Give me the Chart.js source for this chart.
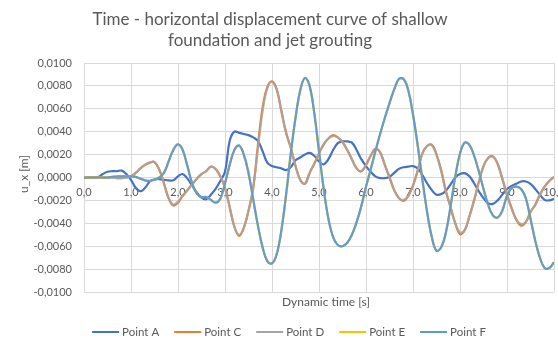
<!DOCTYPE html>
<html>
<head>
<meta charset="utf-8">
<script src="https://cdn.jsdelivr.net/npm/chart.js@4.4.1/dist/chart.umd.min.js"></script>
<style>
html,body{margin:0;padding:0;background:#ffffff;}
#wrap{width:558px;height:338px;position:relative;}
</style>
</head>
<body>
<div id="wrap"><canvas id="c" width="558" height="338"></canvas></div>
<script>
const titleLines = ['Time - horizontal displacement curve of shallow', 'foundation and jet grouting'];
const xTitle = 'Dynamic time [s]';
const yTitle = 'u_x [m]';
const seriesNames = ['Point A', 'Point C', 'Point D', 'Point E', 'Point F'];
const xTickLabels = ['0,0','1,0','2,0','3,0','4,0','5,0','6,0','7,0','8,0','9,0','10,0'];
const yTickLabels = ['-0,0100','-0,0080','-0,0060','-0,0040','-0,0020','0,0000','0,0020','0,0040','0,0060','0,0080','0,0100'];

const time = [0.0,0.1,0.2,0.3,0.4,0.5,0.6,0.7,0.8,0.9,
1.0,1.1,1.2,1.3,1.4,1.5,1.6,1.7,1.8,1.9,
2.0,2.1,2.2,2.3,2.4,2.5,2.6,2.7,2.8,2.9,
3.0,3.1,3.2,3.3,3.4,3.5,3.6,3.7,3.8,3.9,
4.0,4.1,4.2,4.3,4.4,4.5,4.6,4.7,4.8,4.9,
5.0,5.1,5.2,5.3,5.4,5.5,5.6,5.7,5.8,5.9,
6.0,6.1,6.2,6.3,6.4,6.5,6.6,6.7,6.8,6.9,
7.0,7.1,7.2,7.3,7.4,7.5,7.6,7.7,7.8,7.9,
8.0,8.1,8.2,8.3,8.4,8.5,8.6,8.7,8.8,8.9,
9.0,9.1,9.2,9.3,9.4,9.5,9.6,9.7,9.8,9.9,10.0];

const pointA = [0,0,0,0.00005,0.0003,0.0005,0.00055,0.00055,0.0006,0.0003,
-0.0002,-0.0009,-0.0012,-0.0009,-0.00035,-0.00015,-0.00015,-0.0002,-0.00025,-0.00025,
0.0001,0.0003,-0.0001,-0.0007,-0.0013,-0.00175,-0.0019,-0.0015,-0.001,-0.0003,
0.0005,0.0032,0.004,0.0039,0.0038,0.0037,0.0035,0.0032,0.0023,0.0013,
0.001,0.0009,0.0008,0.00065,0.0009,0.0015,0.00175,0.002,0.00215,0.0019,
0.0014,0.00115,0.0016,0.0024,0.003,0.00315,0.00315,0.00305,0.0024,0.0016,
0.001,0.0005,0.0001,-0.00005,-0.00005,0.00005,0.0004,0.00075,0.0009,0.00095,
0.001,0.0008,0.0002,-0.0005,-0.0011,-0.0015,-0.00145,-0.00115,-0.0006,0.0,
0.0003,0.00038,0.0001,-0.0005,-0.0012,-0.0018,-0.00225,-0.0023,-0.002,-0.0015,
-0.001,-0.00075,-0.00055,-0.00035,-0.00035,-0.00055,-0.001,-0.0015,-0.00195,-0.002,-0.00185];

const pointC = [0,0,0,0,0,0,0,-0.00005,-0.00005,0,
0.0001,0.0004,0.0008,0.0011,0.0013,0.00135,0.0007,-0.0005,-0.0018,-0.00245,
-0.0022,-0.0016,-0.0011,-0.0006,-0.0001,0.0003,0.00055,0.00095,0.00075,0.0001,
-0.0009,-0.0026,-0.0043,-0.0051,-0.0044,-0.0029,-0.0009,0.0028,0.0061,0.0079,
0.0084,0.0077,0.0058,0.0039,0.0026,0.001,-0.0002,-0.00055,0.0004,0.0012,
0.0021,0.0029,0.0034,0.0037,0.0035,0.0031,0.0024,0.0016,0.0008,0.00055,
0.0011,0.0019,0.0025,0.0022,0.0011,0.0,-0.0011,-0.0018,-0.00205,-0.0016,
-0.0007,0.0006,0.0021,0.00275,0.00285,0.002,0.0006,-0.0012,-0.0026,-0.004,
-0.00495,-0.0046,-0.0034,-0.002,-0.0004,0.001,0.0017,0.00185,0.0012,-0.0001,
-0.0015,-0.0027,-0.0037,-0.0042,-0.0039,-0.003,-0.0024,-0.0015,-0.0008,-0.0003,0.00005];

const pointD = [0,0,0,0,0,0,0,-0.00005,-0.00005,0,
0.0001,0.0004,0.0008,0.0011,0.0013,0.00135,0.0007,-0.0005,-0.0018,-0.00235,
-0.0021,-0.0016,-0.0011,-0.0006,-0.0001,0.0003,0.00055,0.00095,0.00075,0.0001,
-0.0009,-0.0026,-0.0043,-0.005,-0.0044,-0.0029,-0.0009,0.0025,0.0058,0.0078,
0.00835,0.0077,0.0058,0.0039,0.0026,0.001,-0.0002,-0.00055,0.0004,0.0012,
0.0021,0.0029,0.0034,0.0036,0.0035,0.0031,0.0024,0.0016,0.0008,0.00055,
0.0011,0.0019,0.0025,0.0022,0.0011,0.0,-0.0011,-0.0018,-0.00195,-0.0016,
-0.0007,0.0006,0.0021,0.00275,0.00285,0.002,0.0006,-0.0012,-0.0026,-0.004,
-0.0048,-0.0046,-0.0034,-0.002,-0.0004,0.001,0.0017,0.0018,0.0012,-0.0001,
-0.0015,-0.0027,-0.0037,-0.00405,-0.0039,-0.003,-0.0024,-0.0015,-0.0008,-0.0003,0.00005];

const pointE = [0,0,0,0,0,0,0.00005,0.0001,0.0001,0.0001,
0.0001,0.00005,-0.0001,-0.00025,-0.0003,-0.0002,0.0,0.0004,0.0014,0.0024,
0.0029,0.0024,0.001,-0.0005,-0.0014,-0.0017,-0.0017,-0.00195,-0.0022,-0.00185,
-0.0005,0.0011,0.0024,0.0028,0.002,0.0004,-0.0019,-0.0042,-0.0061,-0.0073,
-0.0075,-0.0067,-0.0046,-0.0015,0.0021,0.0052,0.0076,0.0087,0.008,0.0056,
0.0023,-0.001,-0.0036,-0.0052,-0.0059,-0.006,-0.0057,-0.005,-0.0039,-0.0025,
-0.0008,0.0007,0.0023,0.0038,0.0052,0.0065,0.0077,0.0086,0.0086,0.0076,
0.0055,0.0028,-0.0002,-0.003,-0.0052,-0.0064,-0.0061,-0.0048,-0.0025,0.0001,
0.0021,0.00305,0.00285,0.0019,0.00055,-0.001,-0.0024,-0.0033,-0.0035,-0.0029,
-0.0016,-0.0009,-0.0008,-0.001,-0.0018,-0.0036,-0.0055,-0.007,-0.0079,-0.0079,-0.0074];

const pointF = [0,0,0,0,0,0,0.00005,0.0001,0.0001,0.0001,
0.0001,0.00005,-0.0001,-0.00025,-0.0003,-0.0002,0.0,0.0004,0.0014,0.0024,
0.0029,0.0024,0.001,-0.0005,-0.0014,-0.0017,-0.0017,-0.00195,-0.0022,-0.00185,
-0.0005,0.0011,0.0024,0.0028,0.002,0.0004,-0.0019,-0.0042,-0.0061,-0.0073,
-0.0075,-0.0067,-0.0046,-0.0015,0.0021,0.0052,0.0076,0.0087,0.008,0.0056,
0.0023,-0.001,-0.0036,-0.0052,-0.0059,-0.006,-0.0057,-0.005,-0.0039,-0.0025,
-0.0008,0.0007,0.0023,0.0038,0.0052,0.0065,0.0077,0.0086,0.0086,0.0076,
0.0055,0.0028,-0.0002,-0.003,-0.0052,-0.0064,-0.0061,-0.0048,-0.0025,0.0001,
0.0021,0.00305,0.00285,0.0019,0.00055,-0.001,-0.0024,-0.0033,-0.0035,-0.0029,
-0.0016,-0.0009,-0.0008,-0.001,-0.0018,-0.0036,-0.0055,-0.007,-0.0079,-0.0079,-0.0074];

const toPoints = arr => time.map((t, i) => ({ x: t, y: arr[i] }));

const legendColors = ['#4472C4', '#ED7D31', '#A5A5A5', '#FFC000', '#5B9BD5'];

const textPlugin = {
  id: 'excelTexts',
  afterDraw(chart) {
    const ctx = chart.ctx;
    ctx.save();
    ctx.fillStyle = '#595959';
    ctx.textAlign = 'center';
    ctx.textBaseline = 'middle';
    ctx.font = '17px Lato';
    ctx.fillText(titleLines[0], 270, 20);
    ctx.fillText(titleLines[1], 270, 41);
    ctx.font = '12px Lato';
    ctx.fillText(xTitle, 326, 302);
    ctx.save();
    ctx.translate(24, 174);
    ctx.rotate(-Math.PI / 2);
    ctx.fillText(yTitle, 0, 0);
    ctx.restore();
    // legend
    ctx.font = '11.5px Lato';
    ctx.textAlign = 'left';
    const lineLen = 27, gapText = 3, gapItem = 15;
    const widths = seriesNames.map(n => ctx.measureText(n).width);
    const total = widths.reduce((s, w) => s + lineLen + gapText + w, 0) + gapItem * (seriesNames.length - 1);
    let x = 289 - total / 2;
    const ly = 332;
    seriesNames.forEach((n, i) => {
      ctx.strokeStyle = legendColors[i];
      ctx.lineWidth = 2;
      ctx.beginPath();
      ctx.moveTo(x, ly);
      ctx.lineTo(x + lineLen, ly);
      ctx.stroke();
      ctx.fillStyle = '#595959';
      ctx.fillText(n, x + lineLen + gapText, ly + 0.5);
      x += lineLen + gapText + widths[i] + gapItem;
    });
    ctx.restore();
  }
};

new Chart(document.getElementById('c'), {
  type: 'line',
  data: {
    datasets: [
      { label: seriesNames[0], data: toPoints(pointA), borderColor: '#4472C4', order: 5 },
      { label: seriesNames[1], data: toPoints(pointC), borderColor: '#ED7D31', order: 4 },
      { label: seriesNames[2], data: toPoints(pointD), borderColor: 'rgba(165,165,165,0.8)', order: 3 },
      { label: seriesNames[3], data: toPoints(pointE), borderColor: '#FFC000', order: 2 },
      { label: seriesNames[4], data: toPoints(pointF), borderColor: 'rgba(91,155,213,0.95)', order: 1 }
    ]
  },
  options: {
    responsive: false,
    animation: false,
    devicePixelRatio: 1,
    layout: { padding: { top: 63, right: 4, bottom: 46, left: 0 } },
    elements: {
      point: { radius: 0, hoverRadius: 0 },
      line: { borderWidth: 2.2, tension: 0.4, fill: false }
    },
    plugins: {
      legend: { display: false },
      title: { display: false },
      tooltip: { enabled: false }
    },
    scales: {
      x: {
        type: 'linear',
        min: 0, max: 10,
        position: { y: 0 },
        ticks: {
          stepSize: 1, autoSkip: false, maxRotation: 0,
          font: { family: 'Lato', size: 11 }, color: '#595959', padding: 8,
          callback: (v, i) => xTickLabels[i]
        },
        grid: { color: '#d9d9d9', lineWidth: 1, drawTicks: false },
        border: { display: false },
        afterFit(s) { s.paddingLeft = 0; s.paddingRight = 0; }
      },
      y: {
        type: 'linear',
        min: -0.01, max: 0.01,
        ticks: {
          stepSize: 0.002,
          font: { family: 'Lato', size: 11 }, color: '#595959', padding: 12,
          callback: (v, i) => yTickLabels[i]
        },
        grid: { color: '#d9d9d9', lineWidth: 1, drawTicks: false },
        border: { display: false },
        afterFit(s) { s.width = 84; }
      }
    }
  },
  plugins: [textPlugin]
});
</script>
</body>
</html>
